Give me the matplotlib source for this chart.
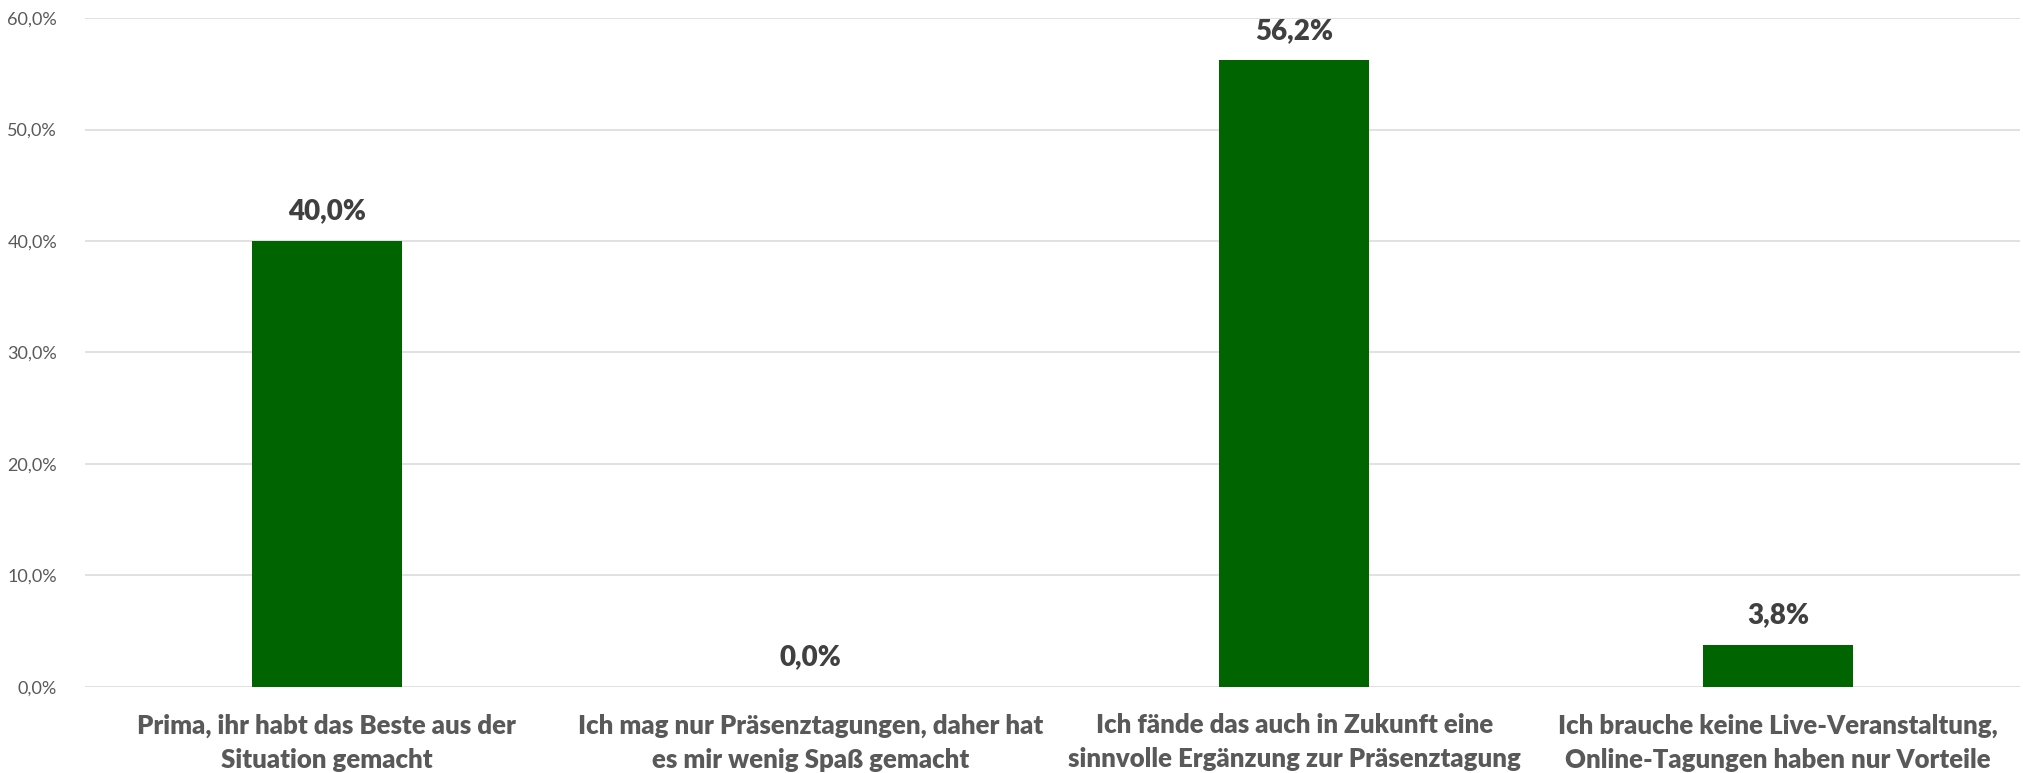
#!/usr/bin/env python3
# -*- coding: utf-8 -*-

import numpy as np
import matplotlib
matplotlib.use("Agg")
import matplotlib.pyplot as plt
from matplotlib.ticker import FuncFormatter

categories = [
    "Prima, ihr habt das Beste aus der\nSituation gemacht",
    "Ich mag nur Präsenztagungen, daher hat\nes mir wenig Spaß gemacht",
    "Ich fände das auch in Zukunft eine\nsinnvolle Ergänzung zur Präsenztagung",
    "Ich brauche keine Live-Veranstaltung,\nOnline-Tagungen haben nur Vorteile",
]
values = [40.0, 0.0, 56.2, 3.8]
yticks = [0, 10, 20, 30, 40, 50, 60]

plt.rcParams["font.family"] = ["Lato", "DejaVu Sans"]

fig = plt.figure(figsize=(20.24, 7.73), dpi=100)
ax = fig.add_axes([0.042, 0.1113, 0.956, 0.8654])

x = np.arange(len(categories))
bars = ax.bar(x, values, width=0.31, color="#006400", zorder=3)

ax.set_xlim(-0.5, len(categories) - 0.5)
ax.set_ylim(0, 60)
ax.set_yticks(yticks)
ax.yaxis.set_major_formatter(FuncFormatter(lambda v, p: f"{v:.1f}%".replace(".", ",")))
ax.grid(axis="y", color="#d9d9d9", linewidth=1.1, zorder=0)
for s in ax.spines.values():
    s.set_visible(False)
ax.tick_params(axis="y", length=0, pad=20, labelsize=13, labelcolor="#595959")
ax.tick_params(axis="x", length=0, pad=19)

ax.set_xticks(x)
ax.set_xticklabels(categories, fontsize=18.5, fontweight="heavy", color="#595959",
                   linespacing=1.5)

for xi, v in zip(x, values):
    ax.annotate(f"{v:.1f}%".replace(".", ","), (xi, v), xytext=(0, 12),
                textcoords="offset points", ha="center", va="bottom",
                fontsize=20, fontweight="heavy", color="#404040")

fig.savefig("out.png", dpi=100)
